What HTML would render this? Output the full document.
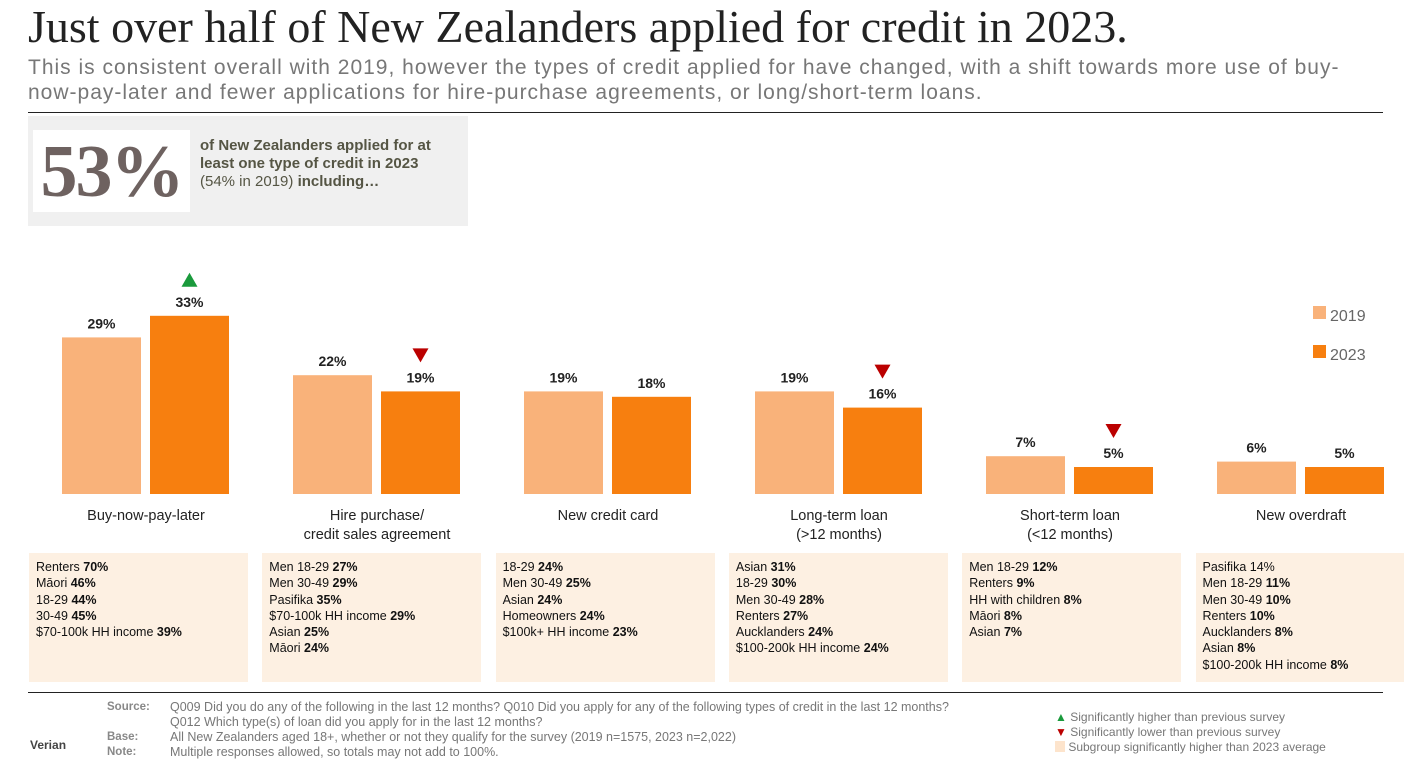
<!DOCTYPE html>
<html><head><meta charset="utf-8"><style>
body{margin:0;width:1404px;height:770px;background:#fff;font-family:"Liberation Sans",sans-serif;position:relative;overflow:hidden}
.a{position:absolute}
.sg{position:absolute;top:553px;width:219px;height:129px;background:#fdf0e2;font-size:12.5px;line-height:16.3px;color:#111;padding:6px 0 0 7px;box-sizing:border-box}
.ft{font-size:11.5px;color:#777}
</style></head><body>
<div class="a" style="left:28px;top:0px;font-family:'Liberation Serif',serif;font-size:46px;color:#222;white-space:nowrap">Just over half of New Zealanders applied for credit in 2023.</div>
<div class="a" style="left:28px;top:55px;font-size:21px;line-height:25px;color:#777;white-space:nowrap;letter-spacing:1px">This is consistent overall with 2019, however the types of credit applied for have changed, with a shift towards more use of buy-<br>now-pay-later and fewer applications for hire-purchase agreements, or long/short-term loans.</div>
<div class="a" style="left:28px;top:112px;width:1355px;height:1px;background:#222"></div>
<div class="a" style="left:28px;top:116px;width:440px;height:110px;background:#f0f0f0"></div>
<div class="a" style="left:33px;top:130px;width:157px;height:82px;background:#fff;font-family:'Liberation Serif',serif;font-weight:bold;font-size:74px;line-height:84px;color:#6e6260;text-align:center;letter-spacing:-2px">53%</div>
<div class="a" style="left:200px;top:137px;font-size:15px;line-height:18px;color:#554">
<b>of New Zealanders applied for at<br>least one type of credit in 2023</b><br>(54% in 2019) <b>including…</b></div>
<svg class="a" id="chart" style="left:0;top:0" width="1404" height="550"></svg>
<div id="subs"></div>
<div class="a" style="left:28px;top:692px;width:1355px;height:1px;background:#222"></div>
<div class="a ft" style="left:107px;top:700px;line-height:15px;font-weight:bold;color:#888">Source:<br><br>Base:<br>Note:</div>
<div class="a ft" style="left:170px;top:700px;line-height:15px;font-size:12.5px;white-space:nowrap">Q009 Did you do any of the following in the last 12 months? Q010 Did you apply for any of the following types of credit in the last 12 months?<br>Q012 Which type(s) of loan did you apply for in the last 12 months?<br>All New Zealanders aged 18+, whether or not they qualify for the survey (2019 n=1575, 2023 n=2,022)<br>Multiple responses allowed, so totals may not add to 100%.</div>
<div class="a" style="left:30px;top:738px;font-size:12px;font-weight:bold;color:#444">Verian</div>
<div class="a ft" style="left:1055px;top:710px;line-height:15px;font-size:12px">
<span style="color:#1a9a3c">▲</span> Significantly higher than previous survey<br><span style="color:#b00">▼</span> Significantly lower than previous survey<br><span style="display:inline-block;width:10px;height:11px;background:#fde4cc;vertical-align:-1px"></span> Subgroup significantly higher than 2023 average</div>
<script>
const categories=["Buy-now-pay-later","Hire purchase/|credit sales agreement","New credit card","Long-term loan|(>12 months)","Short-term loan|(<12 months)","New overdraft"];
const v2019=[29,22,19,19,7,6];
const v2023=[33,19,18,16,5,5];
const sig=["up","down","","down","down",""];
const subgroups=[
[["Renters ","70%"],["Māori ","46%"],["18-29 ","44%"],["30-49 ","45%"],["$70-100k HH income ","39%"]],
[["Men 18-29 ","27%"],["Men 30-49 ","29%"],["Pasifika ","35%"],["$70-100k HH income ","29%"],["Asian ","25%"],["Māori ","24%"]],
[["18-29 ","24%"],["Men 30-49 ","25%"],["Asian ","24%"],["Homeowners ","24%"],["$100k+ HH income ","23%"]],
[["Asian ","31%"],["18-29 ","30%"],["Men 30-49 ","28%"],["Renters ","27%"],["Aucklanders ","24%"],["$100-200k HH income ","24%"]],
[["Men 18-29 ","12%"],["Renters ","9%"],["HH with children ","8%"],["Māori ","8%"],["Asian ","7%"]],
[["Pasifika 14%",""],["Men 18-29 ","11%"],["Men 30-49 ","10%"],["Renters ","10%"],["Aucklanders ","8%"],["Asian ","8%"],["$100-200k HH income ","8%"]]];
const NS="http://www.w3.org/2000/svg",svg=document.getElementById('chart');
const base=494,k=5.4,bw=79;
const y=v=>base-v*k, gx=i=>62+i*231;
function mk(t,a){const e=document.createElementNS(NS,t);for(const n in a)e.setAttribute(n,a[n]);svg.appendChild(e);return e;}
categories.forEach((c,i)=>{
 [[v2019[i],'#f9b27a',0],[v2023[i],'#f77f0f',88]].forEach(([v,col,off],j)=>{
  const r=mk('rect',{x:gx(i)+off,y:y(v),width:bw,height:v*k,fill:col});
  
  
  const t=mk('text',{x:gx(i)+off+bw/2,y:y(v)-9,'text-anchor':'middle','font-size':14,'font-weight':'bold',fill:'#222'});
  t.textContent=v+'%';
  
  
 });
 const cx=gx(i)+88+bw/2,ty=y(v2023[i])-37;
 if(sig[i]){const p=mk('path',{d:sig[i]=='up'?`M${cx-8} ${ty+8}L${cx+8} ${ty+8}L${cx} ${ty-6}Z`:`M${cx-8} ${ty-6}L${cx+8} ${ty-6}L${cx} ${ty+8}Z`,fill:sig[i]=='up'?'#1a9a3c':'#b00'});
  
  }
 c.split('|').forEach((l,li)=>{const t=mk('text',{x:gx(i)+84,y:520+li*19,'text-anchor':'middle','font-size':14.5,fill:'#222'});t.textContent=l;
  
  });
});
[['2019','#f9b27a',315],['2023','#f77f0f',354]].forEach(([n,c,yy])=>{
 const r=mk('rect',{x:1313,y:yy-9,width:13,height:13,fill:c});
 
 
 const t=mk('text',{x:1330,y:yy+6,'font-size':16,fill:'#666'});t.textContent=n;
 
 
});
const subs=document.getElementById('subs');
subgroups.forEach((g,i)=>{const d=document.createElement('div');d.className='sg';d.style.left=(29+i*233.3)+'px';
 
 
 d.innerHTML=g.map(([a,b])=>a+'<b>'+b+'</b>').join('<br>');subs.appendChild(d);});
</script>
</body></html>
